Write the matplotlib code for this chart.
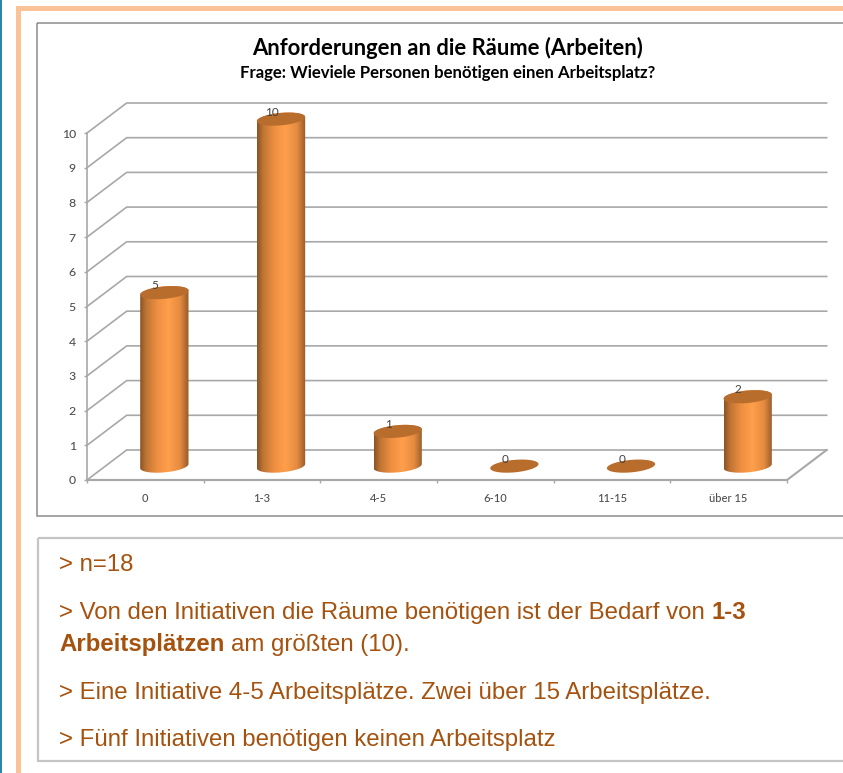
import numpy as np
import matplotlib
matplotlib.use("Agg")
import matplotlib.pyplot as plt
from matplotlib.colors import LinearSegmentedColormap
from matplotlib.patches import Polygon, Rectangle

categories = ["0", "1-3", "4-5", "6-10", "11-15", "über 15"]
values = [5, 10, 1, 0, 0, 2]
y_ticks = list(range(11))

title = "Anforderungen an die Räume (Arbeiten)"
subtitle = "Frage: Wieviele Personen benötigen einen Arbeitsplatz?"

W, H = 843, 773
GRID = "#a8a8a8"
TICK = "#505050"
BODY = "#a5520f"

# depth of the fake 3d box, in data units
DX = 0.34
DY = 0.865

fig = plt.figure(figsize=(W / 100, H / 100), dpi=100, facecolor="white")

# page decoration, in pixels
bg = fig.add_axes([0, 0, 1, 1], zorder=-1)
bg.set_xlim(0, W)
bg.set_ylim(H, 0)
bg.axis("off")
bg.add_patch(Rectangle((0, 0), 1.5, H, color="#2e86a5", lw=0))
bg.add_patch(Rectangle((16, 6), W, 5, color="#fcc297", lw=0))
bg.add_patch(Rectangle((16, 6), 5, H, color="#fcc297", lw=0))
bg.add_patch(Rectangle((36.5, 22.5), W, 493, fill=False, ec="#8c8c8c", lw=1.1))
bg.add_patch(Rectangle((38, 537.5), W, 223, fill=False, ec="#c4c4c4", lw=1.6))

bg.text(448, 48, title, ha="center", va="center", fontsize=15.8, fontweight="bold",
        family="Lato", color="black")
bg.text(448, 73, subtitle, ha="center", va="center", fontsize=12.1, fontweight="bold",
        family="Lato", color="black")

body_font = dict(fontsize=17.3, family="Liberation Sans", color=BODY, va="baseline")
bg.text(59, 571, "> n=18", **body_font)
first = bg.text(59, 619, "> Von den Initiativen die Räume benötigen ist der Bedarf von", **body_font)
second = bg.text(59, 651, "Arbeitsplätzen", fontweight="bold", **body_font)
renderer = fig.canvas.get_renderer()
inv = bg.transData.inverted()
x1 = inv.transform(first.get_window_extent(renderer).get_points())[1, 0]
x2 = inv.transform(second.get_window_extent(renderer).get_points())[1, 0]
bg.text(x1 + 7, 619, "1-3", fontweight="bold", **body_font)
bg.text(x2 + 7, 651, "am größten (10).", **body_font)
bg.text(59, 699, "> Eine Initiative 4-5 Arbeitsplätze. Zwei über 15 Arbeitsplätze.", **body_font)
bg.text(59, 746, "> Fünf Initiativen benötigen keinen Arbeitsplatz", **body_font)

# chart axes is the front plane of the box
ax = fig.add_axes([87 / W, (H - 480) / H, 700 / W, 347 / H])
ax.patch.set_visible(False)

for v in y_ticks:
    ax.plot([0, DX, 6 + DX], [v, v + DY, v + DY], color=GRID, lw=1.2, clip_on=False, zorder=1)
ax.plot([0, 6, 6 + DX], [0, 0, DY], color=GRID, lw=1.5, clip_on=False, zorder=1)

cmap = LinearSegmentedColormap.from_list("cyl", [
    (0.0, "#8a5224"), (0.12, "#bd7433"), (0.35, "#ee8f41"), (0.58, "#ff9f4c"),
    (0.82, "#e58b40"), (1.0, "#935a2a")])
gradient = np.linspace(0, 1, 256).reshape(1, -1)
theta = np.linspace(0, 2 * np.pi, 121)
half_w = 0.207
half_h = 0.18
tilt = 0.06
shift = 0.163
base = 0.4


def ellipse(cx, cy, t):
    return np.column_stack([cx + half_w * np.cos(t), cy + half_h * np.sin(t) + tilt * np.cos(t)])


for i, v in enumerate(values):
    cx = i + 0.5 + shift
    top = base + v
    if v > 0:
        lower = ellipse(cx, base, np.linspace(np.pi, 2 * np.pi, 60))
        upper = ellipse(cx, top, np.linspace(0, np.pi, 60))
        outline = Polygon(np.vstack([lower, upper]), closed=True, transform=ax.transData)
        im = ax.imshow(gradient, cmap=cmap, aspect="auto", zorder=3,
                       extent=(cx - half_w, cx + half_w, base - 1, top + 1))
        im.set_clip_box(fig.bbox)
        im.set_clip_path(outline)
    ax.add_patch(Polygon(ellipse(cx, top, theta), closed=True, fc="#b96d2d", ec="none",
                         clip_on=False, zorder=4))
    ax.text(cx - 0.08, top + 0.2, str(v), ha="center", va="center", fontsize=8.5,
            family="Lato", color="#404040", clip_on=False, zorder=5)

ax.set_xlim(0, 6)
ax.set_ylim(0, 10)
ax.set_xticks(range(7))
ax.set_xticks([i + 0.5 for i in range(6)], categories, minor=True)
ax.set_xticklabels([])
ax.set_yticks(y_ticks)
ax.tick_params(axis="x", which="major", length=2, color=GRID, width=1)
ax.tick_params(axis="x", which="minor", length=0, pad=9.5, labelsize=8, labelcolor=TICK)
ax.tick_params(axis="y", length=2, color=GRID, width=1, pad=6, labelsize=8.8, labelcolor=TICK)
for lab in ax.get_xticklabels(minor=True) + ax.get_yticklabels():
    lab.set_family("Lato")
    lab.set_fontweight("medium")
for side in ["top", "right"]:
    ax.spines[side].set_visible(False)
ax.spines["left"].set_color(GRID)
ax.spines["left"].set_linewidth(1.2)
ax.spines["bottom"].set_color(GRID)
ax.spines["bottom"].set_linewidth(1.5)

fig.savefig("out.png", dpi=100)
